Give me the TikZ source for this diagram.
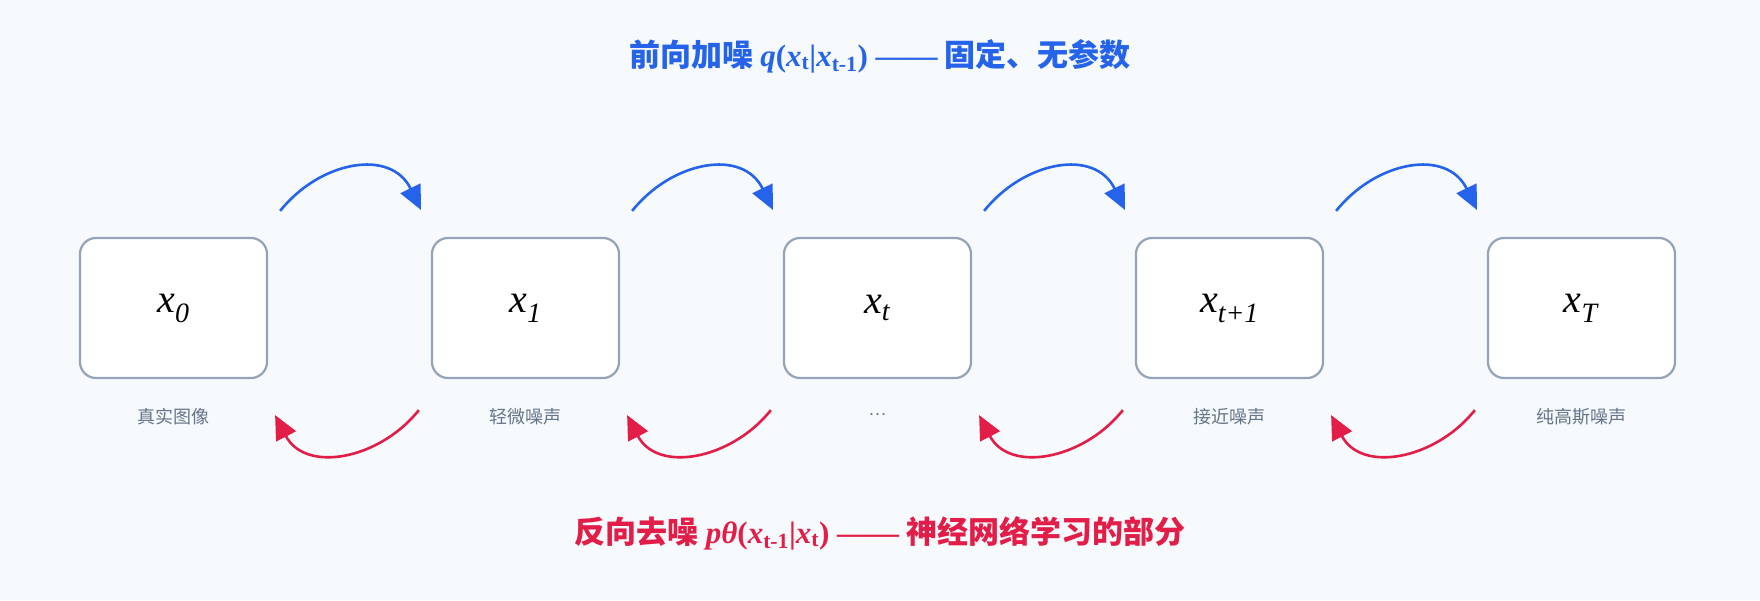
\documentclass[tikz,border=0pt]{standalone}
\usepackage{fontspec}
\setmainfont{Liberation Serif}
\newfontfamily\cjk{Noto Sans CJK SC}
\usetikzlibrary{arrows.meta,calc}
\definecolor{bg}{HTML}{F7FAFC}
\definecolor{bd}{HTML}{94A3B8}
\definecolor{fw}{HTML}{2563EB}
\definecolor{rv}{HTML}{E11D48}
\definecolor{lb}{HTML}{64748B}
\newcommand{\mydots}{{\rmfamily\upshape\textperiodcentered\textperiodcentered\textperiodcentered}}
\newcommand{\bx}[2]{\textit{#1}\textsubscript{\textit{#2}}}
\begin{document}
\begin{tikzpicture}[x=1pt,y=-1pt,
 box/.style={draw=bd,line width=2.2pt,fill=white,rounded corners=16pt,minimum width=187pt,minimum height=140pt,font=\fontsize{40}{44}\selectfont},
 lab/.style={text=lb,font=\cjk\fontsize{18}{20}\selectfont},
 fa/.style={draw=fw,line width=2.6pt,-{Triangle[length=24pt,width=22pt]}},
 ra/.style={draw=rv,line width=2.6pt,-{Triangle[length=24pt,width=22pt]}}]
\fill[bg] (0,0) rectangle (1760,600);
\useasboundingbox (0,0) rectangle (1760,600);
\node[text=fw,font=\cjk\bfseries\fontsize{31}{34}\selectfont] (t1) at (880,56) {前向加噪 {\rmfamily\itshape q}{\rmfamily(\textit{x}\textsubscript{t}|\textit{x}\textsubscript{t-1}) ——} 固定、无参数};
\node[text=rv,font=\cjk\bfseries\fontsize{31}{34}\selectfont] (t2) at (880,533) {反向去噪 {\rmfamily\itshape pθ}{\rmfamily(\textit{x}\textsubscript{t-1}|\textit{x}\textsubscript{t}) ——} 神经网络学习的部分};
\foreach \i/\x/\a/\b/\l in {0/173.5/x/0/真实图像,1/525.5/x/1/轻微噪声,2/877.5/x/t/\mydots,3/1229.5/x/t+1/接近噪声,4/1581.5/x/T/纯高斯噪声}{
 \node[box] (b\i) at (\x,308) {\bx{\a}{\b}};
 \node[lab] (l\i) at (\x,417) {\l};
}
\foreach \a/\b in {0/1,1/2,2/3,3/4}{
 \coordinate (s\a) at ($(b\a.north east)+(12,-26)$);
 \coordinate (e\a) at ($(b\b.north west)+(-10,-27)$);
 \draw[fa] (s\a) .. controls ($(s\a)+(40,-50)$) and ($(e\a)+(-30,-62)$) .. (e\a);
 \coordinate (rs\a) at ($(b\b.south west)+(-12,31)$);
 \coordinate (re\a) at ($(b\a.south east)+(7,36)$);
 \draw[ra] (rs\a) .. controls ($(rs\a)+(-40,50)$) and ($(re\a)+(30,58)$) .. (re\a);
}
\end{tikzpicture}
\end{document}
